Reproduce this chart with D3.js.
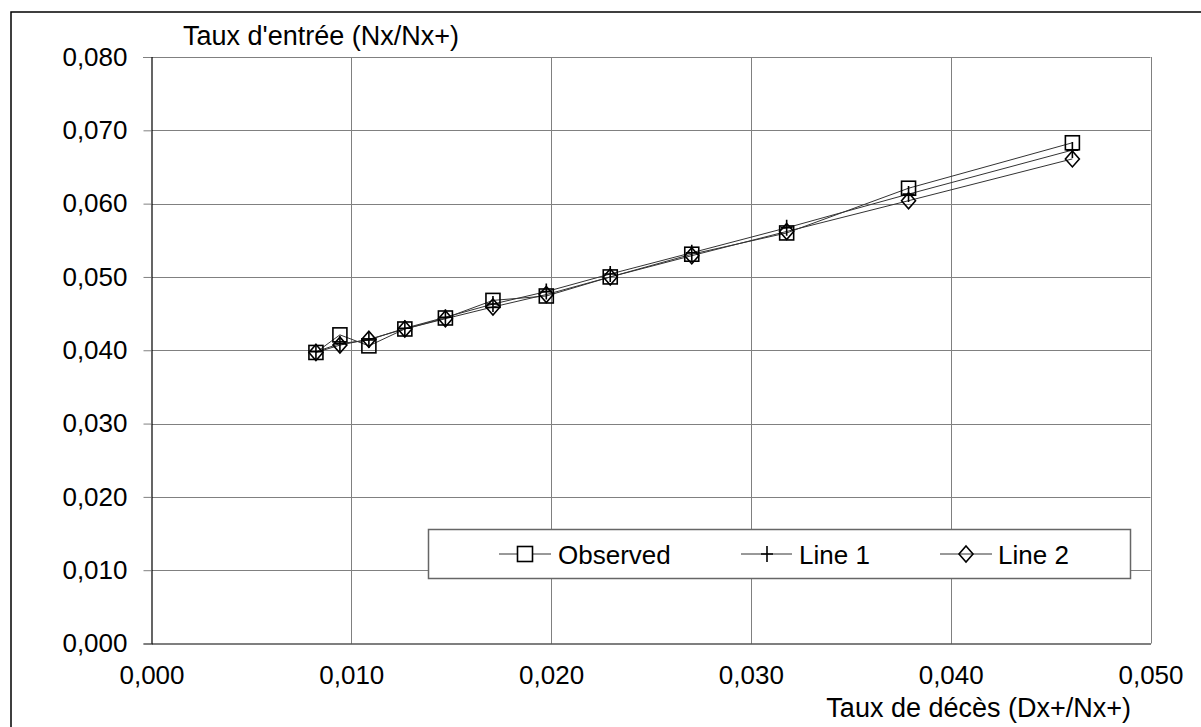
<!DOCTYPE html>
<html>
<head>
<meta charset="utf-8">
<script src="https://cdn.jsdelivr.net/npm/d3@7"></script>
<style>
  html, body { margin: 0; padding: 0; background: #fff; }
  svg { display: block; font-family: "Liberation Sans", Arial, sans-serif; }
</style>
</head>
<body>
<svg id="chart" width="1201" height="727"></svg>
<script>
// ---- data ----
const deathRate = [0.00823, 0.00943, 0.01088, 0.01268, 0.01471, 0.01709, 0.01976, 0.02296, 0.02704, 0.03179, 0.03789, 0.04609];
const observed  = [0.0397, 0.0421, 0.0406, 0.0429, 0.0444, 0.0468, 0.0474, 0.0500, 0.0531, 0.0560, 0.0621, 0.0683];
const line1     = [0.0398, 0.0409, 0.0414, 0.0430, 0.0445, 0.0463, 0.0480, 0.0504, 0.0533, 0.0567, 0.0613, 0.0673];
const line2     = [0.0397, 0.0407, 0.0415, 0.0429, 0.0443, 0.0459, 0.0476, 0.0500, 0.0529, 0.0562, 0.0604, 0.0661];
const seriesNames = ["Observed", "Line 1", "Line 2"];
const xTicks = [0, 0.01, 0.02, 0.03, 0.04, 0.05];
const yTicks = [0, 0.01, 0.02, 0.03, 0.04, 0.05, 0.06, 0.07, 0.08];
const xTitle = "Taux de décès (Dx+/Nx+)";
const yTitle = "Taux d'entrée (Nx/Nx+)";

const svg = d3.select("#chart");
const x = d3.scaleLinear().domain([0, 0.05]).range([151.5, 1150.5]);
const y = d3.scaleLinear().domain([0, 0.08]).range([643.5, 57]);
const fmt = v => d3.format(".3f")(v).replace(".", ",");

// outer frame (right and bottom edges fall outside the picture)
svg.append("rect").attr("x", 11).attr("y", 12).attr("width", 1210).attr("height", 730)
  .attr("fill", "none").attr("stroke", "#000").attr("stroke-width", 1.5);

// grid
svg.append("g").selectAll("line").data(yTicks.slice(1)).join("line")
  .attr("x1", x(0)).attr("x2", x(0.05))
  .attr("y1", d => Math.round(y(d)) + 0.5).attr("y2", d => Math.round(y(d)) + 0.5)
  .attr("stroke", "#808080").attr("stroke-width", 1);
svg.append("g").selectAll("line").data(xTicks.slice(1)).join("line")
  .attr("y1", y(0)).attr("y2", y(0.08))
  .attr("x1", d => Math.round(x(d)) + 0.5).attr("x2", d => Math.round(x(d)) + 0.5)
  .attr("stroke", "#808080").attr("stroke-width", 1);

// y axis
const yAxis = d3.axisLeft(y).tickValues(yTicks).tickFormat(fmt).tickSize(8).tickPadding(16);
const gy = svg.append("g").attr("transform", "translate(151.5,0)").call(yAxis);
gy.select(".domain").attr("stroke", "#000").attr("stroke-width", 1.2);
gy.selectAll(".tick line").attr("stroke", "#808080");
gy.selectAll(".tick text").attr("font-size", 26).attr("fill", "#000")
  .attr("font-family", "Liberation Sans, Arial, sans-serif");

// x axis
const xAxis = d3.axisBottom(x).tickValues(xTicks).tickFormat(fmt).tickSize(0).tickPadding(22);
const gx = svg.append("g").attr("transform", "translate(0,643.5)").call(xAxis);
gx.select(".domain").attr("stroke", "#000").attr("stroke-width", 1.2);
gx.selectAll(".tick text").attr("font-size", 26).attr("fill", "#000")
  .attr("font-family", "Liberation Sans, Arial, sans-serif");

// titles
svg.append("text").attr("x", 183).attr("y", 45).attr("font-size", 27).text(yTitle);
svg.append("text").attr("x", 1131).attr("y", 717).attr("text-anchor", "end").attr("font-size", 27).text(xTitle);

// markers
function drawMarker(g, type, cx, cy) {
  if (type === 0) {
    g.append("rect").attr("x", cx - 7).attr("y", cy - 7).attr("width", 14).attr("height", 14)
      .attr("fill", "none").attr("stroke", "#000").attr("stroke-width", 1.6);
  } else if (type === 1) {
    g.append("path").attr("d", `M${cx - 6},${cy}H${cx + 6}M${cx},${cy - 8}V${cy + 8}`)
      .attr("fill", "none").attr("stroke", "#000").attr("stroke-width", 1.6);
  } else {
    g.append("path").attr("d", `M${cx},${cy - 8}L${cx + 7},${cy}L${cx},${cy + 8}L${cx - 7},${cy}Z`)
      .attr("fill", "none").attr("stroke", "#000").attr("stroke-width", 1.6);
  }
}

const allSeries = [observed, line1, line2];
const lineGen = d3.line().x(d => x(d[0])).y(d => y(d[1]));
allSeries.forEach((vals, si) => {
  const pts = deathRate.map((d, i) => [d, vals[i]]);
  svg.append("path").datum(pts).attr("d", lineGen)
    .attr("fill", "none").attr("stroke", "#333").attr("stroke-width", 1);
});
allSeries.forEach((vals, si) => {
  const g = svg.append("g");
  deathRate.forEach((d, i) => drawMarker(g, si, x(d), y(vals[i])));
});

// legend
const lg = svg.append("g");
lg.append("rect").attr("x", 428.5).attr("y", 529.5).attr("width", 702).attr("height", 49)
  .attr("fill", "#fff").attr("stroke", "#666").attr("stroke-width", 1.5);
const legendItems = [
  { lx1: 499, lx2: 551, cx: 525, tx: 558 },
  { lx1: 741, lx2: 792, cx: 767, tx: 799 },
  { lx1: 940, lx2: 992, cx: 966, tx: 998 }
];
const ly = 554;
seriesNames.forEach((name, i) => {
  const it = legendItems[i];
  lg.append("line").attr("x1", it.lx1).attr("x2", it.lx2).attr("y1", ly).attr("y2", ly)
    .attr("stroke", "#333").attr("stroke-width", 1);
  const mg = lg.append("g");
  if (i === 0) {
    mg.append("rect").attr("x", it.cx - 7.5).attr("y", ly - 7.5).attr("width", 15).attr("height", 15)
      .attr("fill", "#fff").attr("stroke", "#000").attr("stroke-width", 1.6);
  } else {
    drawMarker(mg, i, it.cx, ly);
  }
  lg.append("text").attr("x", it.tx).attr("y", 564).attr("font-size", 26).text(name);
});
</script>
</body>
</html>
